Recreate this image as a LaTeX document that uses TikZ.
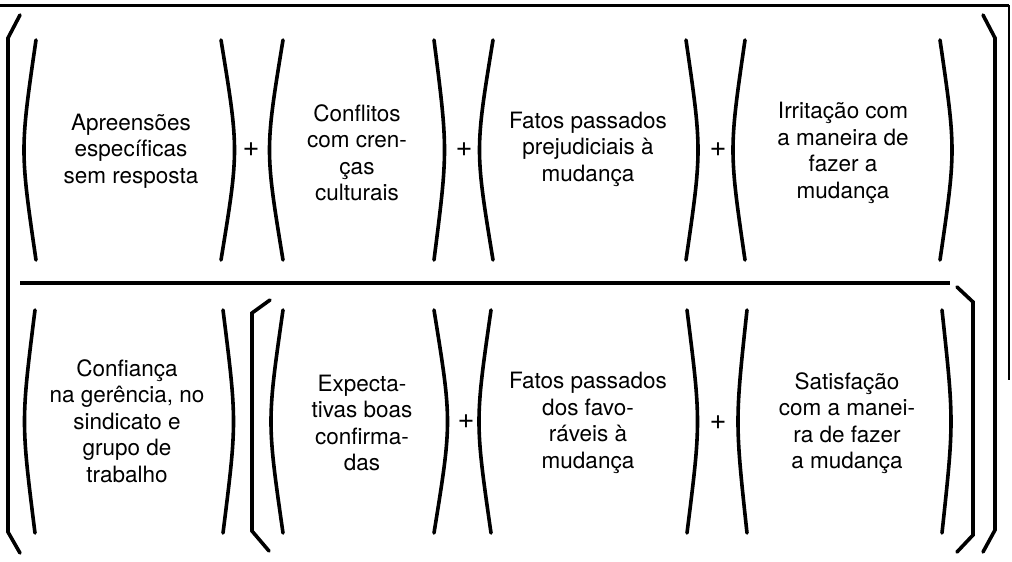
\documentclass[tikz,border=0pt]{standalone}
\usepackage{fontspec}
\setmainfont{TeX Gyre Heros}
\newcommand\parc[4]{\draw[brk] (#1,#3) .. controls ({2*#2-#1},{(#3+#4)/2}) .. (#1,#4);}
\tikzset{
  brk/.style={line width=3.6pt, line cap=round, line join=miter},
  txt/.style={align=center, font=\fontsize{22.5}{26.5}\selectfont, inner sep=0pt},
  plus/.style={font=\fontsize{29}{30}\selectfont, inner sep=0pt},
  rule/.style={line width=4pt}
}
\begin{document}
\begin{tikzpicture}[x=1pt,y=-1pt]
\useasboundingbox (0,0) rectangle (1012,562);
% frame remnants
\draw[line width=3pt] (0,5) -- (1009,5);
\draw[line width=1.8pt] (1009,5) -- (1009,380);
% outer braces
\draw[brk] (20,15) -- (8,38) -- (8,532) -- (20,553);
\draw[brk] (983,15) -- (995,38) -- (995,530) -- (983,552);
% inner brackets (bottom row)
\draw[brk] (270,300) -- (252,313) -- (252,531) -- (269,551);
\draw[brk] (957,287) -- (973,302) -- (973,535) -- (957,552);
% separator
\draw[rule] (20,283) -- (950,283);
% top row parentheses
\parc{36}{28}{40}{260}
\parc{221}{230}{40}{260}
\parc{283}{274}{40}{260}
\parc{434}{441}{40}{260}
\parc{493}{484}{40}{260}
\parc{686}{694}{40}{260}
\parc{745}{737}{40}{260}
\parc{940}{948}{40}{260}
% bottom row parentheses
\parc{35}{28}{310}{533}
\parc{223}{230}{310}{533}
\parc{283}{275}{310}{533}
\parc{434}{443}{310}{533}
\parc{491}{483}{310}{533}
\parc{687}{694}{310}{533}
\parc{747}{741}{310}{533}
\parc{942}{948}{310}{533}
% texts top
\node[txt] (t1) at (131,151) {Apreensões\\específicas\\sem resposta};
\node[txt] (t2) at (357,153) {Conflitos\\com cren-\\ças\\culturais};
\node[txt] (t3) at (588,149) {Fatos passados\\prejudiciais à\\mudança};
\node[txt] (t4) at (843,153) {Irritação com\\a maneira de\\fazer a\\mudança};
% texts bottom
\node[txt] (b1) at (127,421) {Confiança\\na gerência, no\\sindicato e\\grupo de\\trabalho};
\node[txt] (b2) at (362,423) {Expecta-\\tivas boas\\confirma-\\das};
\node[txt] (b3) at (588,423) {Fatos passados\\dos favo-\\ráveis à\\mudança};
\node[txt] (b4) at (847,423) {Satisfação\\com a manei-\\ra de fazer\\a mudança};
% plus signs
\node[plus] (p1) at (251,150) {+};
\node[plus] (p2) at (464,150) {+};
\node[plus] (p3) at (718,150) {+};
\node[plus] (p4) at (466,422) {+};
\node[plus] (p5) at (718,423) {+};
\end{tikzpicture}
\end{document}
